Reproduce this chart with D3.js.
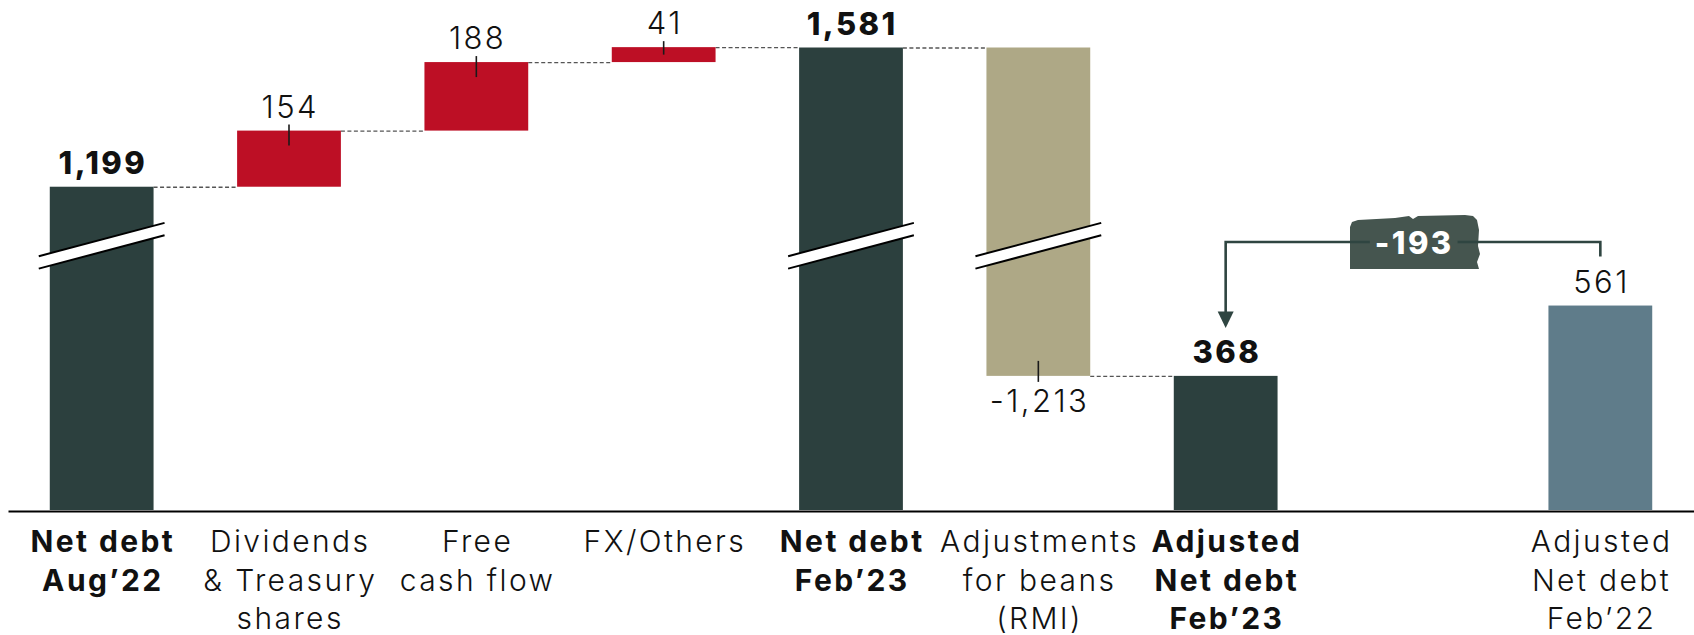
<!DOCTYPE html>
<html>
<head>
<meta charset="utf-8">
<script src="https://cdn.jsdelivr.net/npm/d3@7"></script>
<style>
  html,body{margin:0;padding:0;background:#fff;}
  svg{display:block;}
</style>
</head>
<body>
<svg id="chart"></svg>
<script>
// net debt bridge -- waterfall with broken bars

const categories = [
  "Net debt\nAug’22",
  "Dividends\n& Treasury\nshares",
  "Free\ncash flow",
  "FX/Others",
  "Net debt\nFeb’23",
  "Adjustments\nfor beans\n(RMI)",
  "Adjusted\nNet debt\nFeb’23",
  "",
  "Adjusted\nNet debt\nFeb’22"
];
const values   = [1199, 154, 188, 41, 1581, -1213, 368, null, 561];
const barKinds = ["total","increase","increase","increase","total","adjustment","total",null,"reference"];
const boldCats = [true,false,false,false,true,false,true,false,false];
const brokenBars = [0, 4, 5];

// variance callout: from the Feb'22 bar to the adjusted Feb'23 bar
const variance = { from: 8, to: 6, label: "-193" };

// fake axis break: everything above `from` is pulled down by `gap`
const BREAK = { from: 700, gap: 312, markAt: 1037 };

const COLORS = {
  total:"#2c403e", increase:"#bd0f25", adjustment:"#aea886", reference:"#5f7c8a"
};
const FONT = "Inter, 'Open Sans', 'Noto Sans', sans-serif";
const LS = 2.4;   // widen Inter toward the original's geometric face

const W = 1694, H = 635, BASE_Y = 511;

const svg = d3.select("#chart").attr("width", W).attr("height", H);

const x = d3.scaleBand()
  .domain(d3.range(categories.length))
  .range([8, W])
  .paddingInner(0.446)
  .paddingOuter(0.223);

const y = d3.scaleLinear()
  .domain([0, 1581 - BREAK.gap])
  .range([510, 47.5]);
const yv = v => y(v > BREAK.from ? v - BREAK.gap : v);

const fmt = v => d3.format(",")(v).replace("−", "-");

// waterfall geometry
let run = 0;
const bars = [];
values.forEach((v, i) => {
  const kind = barKinds[i];
  if (kind === null || v === null) return;
  let lo, hi;
  if (kind === "total" || kind === "reference") { lo = 0; hi = v; if (kind === "total") run = v; }
  else { lo = run; hi = run + v; run = hi; }
  bars.push({ i, v, kind, y0: Math.min(lo, hi), y1: Math.max(lo, hi), end: hi });
});

// dashed connectors
const byIndex = new Map(bars.map(b => [b.i, b]));
bars.forEach(b => {
  const nb = byIndex.get(b.i + 1);
  if (!nb || nb.kind === "reference") return;
  svg.append("line")
    .attr("x1", x(b.i) + x.bandwidth()).attr("x2", x(nb.i))
    .attr("y1", yv(b.end) + 0.5).attr("y2", yv(b.end) + 0.5)
    .attr("stroke", "#555").attr("stroke-width", 1.4)
    .attr("stroke-dasharray", "4,2.5");
});

// bars
svg.selectAll("rect.bar").data(bars).join("rect").attr("class", "bar")
  .attr("x", d => x(d.i)).attr("width", x.bandwidth())
  .attr("y", d => yv(d.y1)).attr("height", d => yv(d.y0) - yv(d.y1))
  .attr("fill", d => COLORS[d.kind]);

// break marks
brokenBars.forEach(i => {
  const cx = x(i) + x.bandwidth() / 2, cy = yv(BREAK.markAt);
  const ext = x.bandwidth() / 2 + 11, slope = 0.265, half = 6.2;
  const p = [
    [cx - ext, cy - half + ext * slope], [cx + ext, cy - half - ext * slope],
    [cx + ext, cy + half - ext * slope], [cx - ext, cy + half + ext * slope]
  ];
  svg.append("polygon").attr("points", p.map(d => d.join(",")).join(" ")).attr("fill", "#fff");
  svg.append("line").attr("x1", p[0][0]).attr("y1", p[0][1]).attr("x2", p[1][0]).attr("y2", p[1][1])
    .attr("stroke", "#000").attr("stroke-width", 2);
  svg.append("line").attr("x1", p[3][0]).attr("y1", p[3][1]).attr("x2", p[2][0]).attr("y2", p[2][1])
    .attr("stroke", "#000").attr("stroke-width", 2);
});

// value labels + little ticks on the step bars
bars.forEach(b => {
  const cx = x(b.i) + x.bandwidth() / 2;
  const neg = b.v < 0;
  const edge = neg ? yv(b.y0) : yv(b.y1);
  const isStep = b.kind === "increase" || b.kind === "adjustment";
  if (isStep) {
    const inside = Math.min(15, (yv(b.y0) - yv(b.y1)) / 2);
    svg.append("line").attr("x1", cx).attr("x2", cx)
      .attr("y1", neg ? edge + 6 : edge - 6).attr("y2", neg ? edge - inside : edge + inside)
      .attr("stroke", "#1a1a1a").attr("stroke-width", 1.6);
  }
  svg.append("text")
    .attr("x", cx + LS / 2).attr("y", neg ? edge + 36 : edge - 13)
    .attr("text-anchor", "middle")
    .attr("fill", "#111")
    .style("font-family", FONT)
    .style("font-size", "31px")
    .style("letter-spacing", `${LS}px`)
    .style("font-weight", b.kind === "total" ? 800 : 300)
    .text(fmt(b.v));
});

// variance callout
{
  const xa = x(variance.to) + x.bandwidth() / 2;
  const xb = x(variance.from) + x.bandwidth() / 2;
  const ly = 242;
  const tipY = yv(values[variance.to]) - 48;
  const endY = yv(values[variance.from]) - 49;
  const mx = (xa + xb) / 2 + 2;
  const lineCol = "#2f4541";

  const badge = [
    [-65, 27], [-65, -15], [-63, -20], [-57, -22], [-20, -24], [-6, -26],
    [-2, -23], [3, -26], [50, -27], [58, -26], [62, -22], [64, -12],
    [63, 4], [65, 12], [62, 20], [64, 27]
  ];
  svg.append("path")
    .attr("d", d3.line().curve(d3.curveLinearClosed)(badge.map(p => [mx + p[0], ly + p[1]])))
    .attr("fill", "#45554f");

  const t = svg.append("text")
    .attr("x", mx - 2 + LS / 2).attr("y", ly + 11.5)
    .attr("text-anchor", "middle").attr("fill", "#fff")
    .style("font-family", FONT).style("font-size", "31px").style("font-weight", 800)
    .style("letter-spacing", `${LS}px`)
    .text(variance.label);
  const tb = t.node().getBBox();

  const path = d3.path();
  path.moveTo(xb, endY); path.lineTo(xb, ly); path.lineTo(tb.x + tb.width + 4, ly);
  path.moveTo(tb.x - 5, ly); path.lineTo(xa, ly); path.lineTo(xa, tipY - 15);
  svg.append("path").attr("d", path.toString())
    .attr("fill", "none").attr("stroke", lineCol).attr("stroke-width", 2.6);
  svg.append("path")
    .attr("d", `M${xa - 8},${tipY - 16.5}L${xa + 8},${tipY - 16.5}L${xa},${tipY}Z`)
    .attr("fill", lineCol);
}

// category axis
const axis = svg.append("g").attr("transform", `translate(0,${BASE_Y})`)
  .call(d3.axisBottom(x).tickSize(0).tickSizeOuter(0).tickFormat(""));
axis.select(".domain").attr("stroke", "#000").attr("stroke-width", 2.2);

axis.selectAll(".tick").each(function(i) {
  const lines = categories[i] ? categories[i].split("\n") : [];
  const te = d3.select(this).select("text")
    .attr("y", 41).attr("dy", null)
    .attr("fill", "#111")
    .style("font-family", FONT).style("font-size", "30px")
    .style("letter-spacing", `${LS}px`)
    .style("font-weight", boldCats[i] ? 700 : 300);
  lines.forEach((ln, li) => {
    te.append("tspan").attr("x", LS / 2).attr("dy", li === 0 ? 0 : 38.5).text(ln);
  });
});
</script>
</body>
</html>
